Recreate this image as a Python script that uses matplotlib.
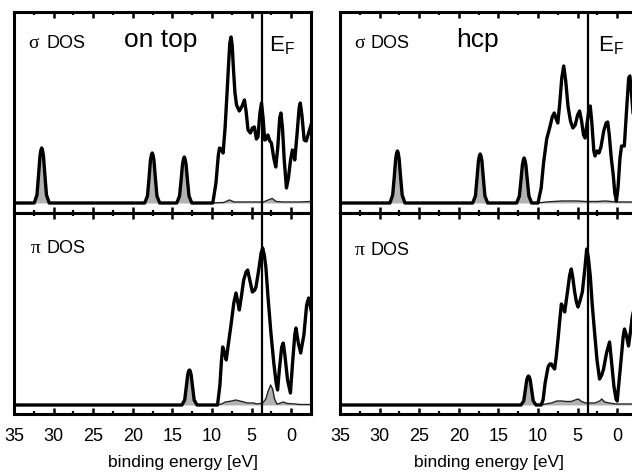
import matplotlib
matplotlib.use("Agg")
import matplotlib.pyplot as plt
import numpy as np

plt.rcParams['font.family'] = ['Liberation Sans', 'DejaVu Sans']
plt.rcParams['mathtext.fontset'] = 'custom'
plt.rcParams['mathtext.rm'] = 'Liberation Sans'

E_F = 3.75
tick_values = [35, 30, 25, 20, 15, 10, 5, 0]
tick_labels = ["35", "30", "25", "20", "15", "10", "5", "0"]

# sigma DOS, on top: sharp low-lying peaks
ontop_sig_core_e = [35.0, 32.45, 32.1, 31.9, 31.72, 31.6, 31.5, 31.4, 31.28, 31.1, 30.9, 30.55,
                    18.5, 18.15, 17.95, 17.77, 17.65, 17.55, 17.45, 17.33, 17.15, 16.95, 16.6,
                    14.45, 14.1, 13.9, 13.72, 13.6, 13.5, 13.4, 13.28, 13.1, 12.9, 12.55]
ontop_sig_core_h = [0, 0, 8, 28, 47, 53, 55, 53, 47, 28, 8, 0,
                    0, 7, 25, 43, 48, 50, 48, 43, 25, 7, 0,
                    0, 7, 23, 39, 44, 46, 44, 39, 23, 7, 0]
# sigma DOS, on top: valence band (black)
ontop_sig_val_e = [9.9, 9.5, 9.2, 9.05, 8.85, 8.6, 8.35, 8.1, 7.9, 7.75, 7.6, 7.45, 7.3,
                   7.1, 6.9, 6.55, 6.2, 5.9, 5.7, 5.45, 5.15, 4.9, 4.65, 4.4, 4.2, 3.95,
                   3.75, 3.55, 3.35, 3.15, 2.95, 2.7, 2.5, 2.2, 1.95, 1.7, 1.45, 1.3, 1.1,
                   0.88, 0.6, 0.35, 0.1, -0.15, -0.45, -0.75, -1.0, -1.15, -1.35, -1.64,
                   -1.9, -2.2, -2.5]
ontop_sig_val_h = [0, 20, 48, 55, 54, 50, 75, 110, 140, 160, 166, 158, 135,
                   110, 98, 92, 97, 103, 92, 73, 70, 75, 76, 64, 66, 90,
                   100, 85, 63, 64, 68, 62, 60, 45, 36, 55, 85, 90, 75,
                   43, 15, 25, 42, 53, 43, 70, 95, 100, 88, 63,
                   62, 70, 78]
# sigma DOS, on top: grey curve in valence region
ontop_sig_sub_e = [10.0, 8.5, 7.8, 7.2, 5.0, 3.5, 2.9, 2.4, 1.9, 1.0, -1.0, -2.5]
ontop_sig_sub_h = [0, 0.5, 3, 1, 1, 1, 3, 4.5, 1.5, 1, 1, 1.5]

# sigma DOS, hcp
hcp_sig_core_e = [35.0, 28.7, 28.35, 28.15, 27.97, 27.85, 27.75, 27.65, 27.53, 27.35, 27.15, 26.8,
                  18.25, 17.9, 17.7, 17.52, 17.4, 17.3, 17.2, 17.08, 16.9, 16.7, 16.35,
                  12.7, 12.35, 12.15, 11.97, 11.85, 11.75, 11.65, 11.53, 11.35, 11.15, 10.8]
hcp_sig_core_h = [0, 0, 8, 26, 44, 50, 52, 50, 44, 26, 8, 0,
                  0, 7, 25, 42, 47, 49, 47, 42, 25, 7, 0,
                  0, 7, 23, 38, 43, 45, 43, 38, 23, 7, 0]
hcp_sig_val_e = [10.0, 9.6, 9.3, 8.9, 8.5, 8.2, 7.95, 7.7, 7.5, 7.25, 7.0, 6.75, 6.5,
                 6.2, 5.9, 5.6, 5.3, 5.0, 4.75, 4.5, 4.25, 4.05, 3.8, 3.55, 3.4, 3.2,
                 2.95, 2.8, 2.55, 2.3, 2.05, 1.7, 1.4, 1.2, 1.0, 0.75, 0.5, 0.3, 0.1,
                 -0.1, -0.35, -0.55, -0.9, -1.2, -1.45, -1.6, -1.8, -2.0, -2.3, -2.5]
hcp_sig_val_h = [0, 15, 40, 64, 76, 86, 90, 84, 80, 100, 125, 137, 122,
                 96, 82, 75, 78, 88, 92, 82, 68, 65, 80, 95, 97, 80,
                 52, 47, 52, 50, 56, 72, 80, 81, 68, 45, 28, 10, 2,
                 15, 45, 57, 57, 95, 125, 127, 110, 90, 85, 90]
hcp_sig_sub_e = [10.0, 9.0, 8.0, 7.0, 5.0, 4.0, 2.5, 1.5, 0.0, -2.5]
hcp_sig_sub_h = [0, 1, 1.5, 2, 2, 1.5, 1.5, 2, 1, 1]

# pi DOS, on top
ontop_pi_core_e = [35.0, 13.8, 13.45, 13.25, 13.07, 12.95, 12.85, 12.75, 12.63, 12.45, 12.25, 11.9]
ontop_pi_core_h = [0, 0, 5, 18, 30, 34, 35, 34, 30, 18, 5, 0]
ontop_pi_val_e = [9.3, 9.0, 8.8, 8.65, 8.45, 8.2, 7.95, 7.6, 7.25, 6.97, 6.75, 6.55,
                  6.3, 6.0, 5.7, 5.5, 5.2, 4.9, 4.6, 4.45, 4.1, 3.8, 3.6, 3.4, 3.2,
                  2.9, 2.56, 2.2, 1.9, 1.72, 1.5, 1.2, 1.0, 0.8, 0.46, 0.1, -0.2,
                  -0.45, -0.6, -0.9, -1.2, -1.6, -1.95, -2.2, -2.5]
ontop_pi_val_h = [0, 20, 45, 58, 53, 45, 60, 80, 102, 112, 103, 95,
                  108, 125, 133, 135, 124, 113, 115, 118, 135, 152, 157, 150, 138,
                  105, 72, 42, 22, 15, 35, 58, 62, 50, 25, 12, 45,
                  70, 77, 62, 52, 70, 100, 107, 95]
ontop_pi_sub_e = [9.5, 8.8, 8.3, 7.5, 7.0, 6.5, 5.5, 4.8, 4.3, 3.6, 3.2, 2.9, 2.6,
                  2.35, 2.1, 1.8, 1.5, 1.0, 0.5, -0.5, -1.0, -2.5]
ontop_pi_sub_h = [0, 1, 3, 4, 5, 4, 2, 2, 1, 2, 6, 14, 20,
                  16, 6, 1, 1.5, 3, 1.5, 1, 0.5, 0.5]

# pi DOS, hcp
hcp_pi_core_e = [35.0, 12.15, 11.8, 11.6, 11.42, 11.3, 11.2, 11.1, 10.98, 10.8, 10.6, 10.25]
hcp_pi_core_h = [0, 0, 4, 15, 25, 28, 29, 28, 25, 15, 4, 0]
hcp_pi_val_e = [9.6, 9.36, 9.1, 8.73, 8.5, 8.31, 8.1, 7.9, 7.7, 7.47, 7.25, 7.05,
                6.85, 6.63, 6.3, 6.0, 5.8, 5.6, 5.37, 5.15, 4.95, 4.7, 4.4, 4.1,
                3.85, 3.65, 3.4, 3.15, 2.86, 2.55, 2.23, 1.95, 1.72, 1.35, 0.96,
                0.7, 0.42, 0.15, 0.0, -0.25, -0.5, -0.75, -0.92, -1.15, -1.43,
                -1.7, -1.9, -2.2, -2.5]
hcp_pi_val_h = [0, 5, 22, 38, 41, 41, 38, 36, 48, 66, 85, 101,
                98, 93, 112, 130, 136, 127, 113, 103, 98, 104, 113, 135,
                156, 148, 129, 100, 73, 45, 26, 30, 36, 52, 63,
                42, 19, 6, 4, 25, 46, 68, 76, 70, 59,
                75, 88, 100, 105]
hcp_pi_sub_e = [9.8, 9.0, 8.3, 7.6, 7.0, 6.5, 5.8, 5.3, 4.9, 4.5, 4.0, 3.5, 2.8,
                2.2, 1.95, 1.6, 1.0, 0.2, -2.5]
hcp_pi_sub_h = [0, 1, 2, 4, 4, 3.5, 3.5, 5, 6, 3.5, 2, 2, 2,
                4, 6, 3, 2, 1, 1]

panels = [
    (ontop_sig_core_e, ontop_sig_core_h, ontop_sig_val_e, ontop_sig_val_h,
     ontop_sig_sub_e, ontop_sig_sub_h),
    (hcp_sig_core_e, hcp_sig_core_h, hcp_sig_val_e, hcp_sig_val_h,
     hcp_sig_sub_e, hcp_sig_sub_h),
    (ontop_pi_core_e, ontop_pi_core_h, ontop_pi_val_e, ontop_pi_val_h,
     ontop_pi_sub_e, ontop_pi_sub_h),
    (hcp_pi_core_e, hcp_pi_core_h, hcp_pi_val_e, hcp_pi_val_h,
     hcp_pi_sub_e, hcp_pi_sub_h),
]

fig = plt.figure(figsize=(6.32, 4.74), dpi=100)
W, H = 632.0, 474.0
# axes boxes in pixels: left, top, right, bottom
boxes = [(14, 12, 311, 213), (340, 12, 637, 213),
         (14, 213, 311, 414), (340, 213, 637, 414)]
axes = []
for (l, t, r, b) in boxes:
    ax = fig.add_axes([l / W, 1 - b / H, (r - l) / W, (b - t) / H])
    axes.append(ax)

for i, ax in enumerate(axes):
    core_e, core_h, val_e, val_h, sub_e, sub_h = panels[i]
    e_black = np.array(core_e + val_e)
    h_black = np.array(core_h + val_h)
    e_grey = np.array(core_e + sub_e)
    h_grey = np.array(core_h + sub_h)

    ax.fill_between(e_grey, 0, h_grey, color='#b2b2b2', lw=0, zorder=1)
    ax.plot(e_grey, h_grey, color='#222222', lw=1.0, zorder=2)
    ax.plot(e_black, h_black, color='black', lw=2.4, zorder=3,
            solid_joinstyle='round')
    ax.axvline(E_F, color='black', lw=1.6, zorder=4)

    ax.set_xlim(35, -2.5)
    if i < 2:
        ax.set_ylim(-10, 191)
    else:
        ax.set_ylim(-9, 192)
    ax.set_yticks([])
    ax.set_xticks(tick_values)
    ax.set_xticks([32.5, 27.5, 22.5, 17.5, 12.5, 7.5, 2.5], minor=True)
    ax.tick_params(axis='x', which='major', direction='in', top=True, bottom=True,
                   length=4.5, width=1.8, pad=10, labelsize=13)
    ax.tick_params(axis='x', which='minor', direction='in', top=True, bottom=True,
                   length=2.5, width=1.6)
    for s in ax.spines.values():
        s.set_linewidth(2.2)
        s.set_zorder(5)
    if i < 2:
        ax.set_xticklabels([])
    else:
        ax.set_xticklabels(tick_labels)

# panel labels
serif = ['Liberation Serif', 'DejaVu Serif']
axes[0].text(0.048, 0.82, "σ", transform=axes[0].transAxes, fontsize=14, family=serif)
axes[0].text(0.108, 0.82, "DOS", transform=axes[0].transAxes, fontsize=13)
axes[0].text(0.372, 0.826, "on top", transform=axes[0].transAxes, fontsize=19)
axes[0].text(0.859, 0.806, r"E$_\mathrm{F}$", transform=axes[0].transAxes, fontsize=16)

axes[1].text(0.048, 0.82, "σ", transform=axes[1].transAxes, fontsize=14, family=serif)
axes[1].text(0.104, 0.82, "DOS", transform=axes[1].transAxes, fontsize=13)
axes[1].text(0.39, 0.826, "hcp", transform=axes[1].transAxes, fontsize=19)
axes[1].text(0.869, 0.806, r"E$_\mathrm{F}$", transform=axes[1].transAxes, fontsize=16)

axes[2].text(0.055, 0.80, "π", transform=axes[2].transAxes, fontsize=14, family=serif)
axes[2].text(0.11, 0.80, "DOS", transform=axes[2].transAxes, fontsize=13)
axes[3].text(0.05, 0.79, "π", transform=axes[3].transAxes, fontsize=14, family=serif)
axes[3].text(0.104, 0.79, "DOS", transform=axes[3].transAxes, fontsize=13)

fig.text(183 / W, 1 - 462 / H, "binding energy [eV]", ha='center', va='center',
         fontsize=12.5)
fig.text(489 / W, 1 - 462 / H, "binding energy [eV]", ha='center', va='center',
         fontsize=12.5)

fig.savefig("out.png", dpi=100)
